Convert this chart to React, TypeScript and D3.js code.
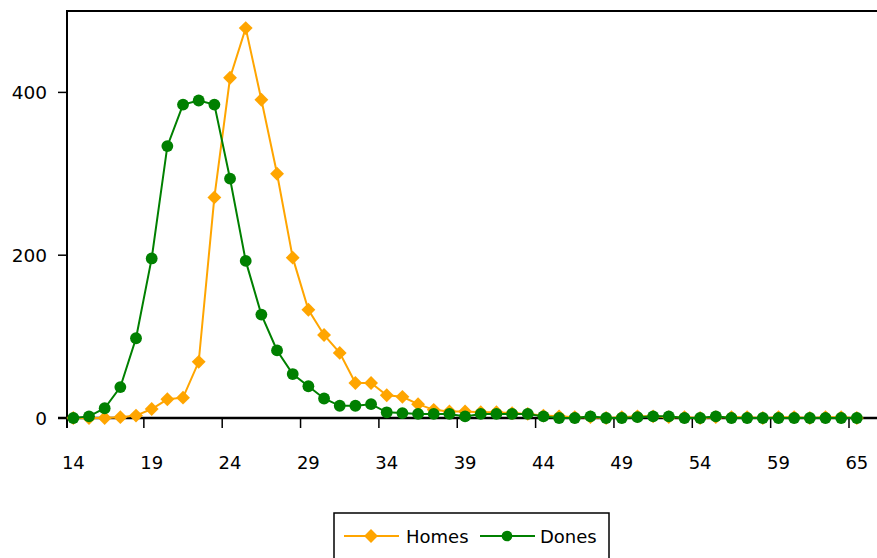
import React from "react";
import * as d3 from "d3";

const ages: string[] = [
  "14","15","16","17","18","19","20","21","22","23",
  "24","25","26","27","28","29","30","31","32","33",
  "34","35","36","37","38","39","40","41","42","43",
  "44","45","46","47","48","49","50","51","52","53",
  "54","55","56","57","58","59","60","61","62","63",
  "65",
];

const homes: number[] = [
  0, 0, 0, 1, 3, 11, 23, 25, 69, 271,
  418, 479, 391, 300, 197, 133, 102, 80, 43, 43,
  28, 26, 17, 10, 8, 8, 7, 7, 6, 5,
  3, 2, 1, 1, 0, 1, 2, 2, 1, 1,
  0, 1, 1, 1, 0, 1, 1, 0, 1, 1,
  0,
];

const dones: number[] = [
  0, 2, 12, 38, 98, 196, 334, 385, 390, 385,
  294, 193, 127, 83, 54, 39, 24, 15, 15, 17,
  7, 6, 5, 5, 5, 2, 5, 5, 5, 5,
  2, 0, 0, 2, 0, 0, 1, 2, 2, 0,
  0, 2, 0, 0, 0, 0, 0, 0, 0, 0,
  0,
];

const xTickIndex: number[] = [0, 5, 10, 15, 20, 25, 30, 35, 40, 45, 50];
const yTicks: number[] = [0, 200, 400];
const seriesNames: string[] = ["Homes", "Dones"];

const W = 877;
const H = 558;
const FONT = "DejaVu Sans";

export default function App() {
  const left = 65.5;
  const step = 15.67;
  const x = d3
    .scaleBand<string>()
    .domain(ages)
    .range([left, left + ages.length * step])
    .padding(0);
  const bw = x.bandwidth();
  const cx = (a: string) => (x(a) as number) + bw / 2;
  const y = d3.scaleLinear().domain([0, 500]).range([418, 11]);

  const line = d3
    .line<number>()
    .x((_, i) => cx(ages[i]))
    .y((d) => y(d));

  const diamond = d3.symbol().type(d3.symbolSquare).size(96)()!;
  const circle = d3.symbol().type(d3.symbolCircle).size(110)()!;
  const orange = "#FFA500";
  const green = "#008000";
  const axisX = 67;

  return (
    <svg
      width={W}
      height={H}
      style={{ position: "absolute", left: 0, top: 0, background: "#fff" }}
      fontFamily={FONT}
    >
      <line x1={axisX - 1} x2={W} y1={y(500)} y2={y(500)} stroke="#000" strokeWidth={2} />
      <line x1={axisX} x2={axisX} y1={y(500) - 1} y2={y(0) + 10} stroke="#000" strokeWidth={2} />
      {yTicks.map((t) => (
        <g key={t}>
          <line x1={axisX - 9} x2={axisX} y1={y(t)} y2={y(t)} stroke="#000" strokeWidth={1.5} />
          <text
            x={47}
            y={y(t)}
            textAnchor="end"
            dominantBaseline="central"
            fontSize={18.5}
            fill="#000"
          >
            {t}
          </text>
        </g>
      ))}
      <line x1={axisX - 9} x2={W} y1={y(0)} y2={y(0)} stroke="#000" strokeWidth={2.5} />
      {xTickIndex.map((i) => (
        <g key={i}>
          {i > 0 && (
            <line
              x1={x(ages[i]) as number}
              x2={x(ages[i]) as number}
              y1={y(0)}
              y2={y(0) + 10}
              stroke="#000"
              strokeWidth={1.5}
            />
          )}
          <text
            x={cx(ages[i])}
            y={462}
            textAnchor="middle"
            dominantBaseline="central"
            fontSize={18}
            fill="#000"
          >
            {ages[i]}
          </text>
        </g>
      ))}

      <path d={line(homes) || ""} fill="none" stroke={orange} strokeWidth={2} />
      {homes.map((v, i) => (
        <path
          key={"h" + i}
          d={diamond}
          transform={`translate(${cx(ages[i])},${y(v)}) rotate(45)`}
          fill={orange}
        />
      ))}
      <path d={line(dones) || ""} fill="none" stroke={green} strokeWidth={2} />
      {dones.map((v, i) => (
        <path
          key={"d" + i}
          d={circle}
          transform={`translate(${cx(ages[i])},${y(v)})`}
          fill={green}
        />
      ))}

      <rect x={334} y={513} width={275} height={60} fill="#fff" stroke="#000" strokeWidth={1.5} />
      <g>
        <line x1={344} x2={399} y1={536} y2={536} stroke={orange} strokeWidth={2} />
        <path d={diamond} transform={`translate(371,536) rotate(45)`} fill={orange} />
        <text x={406} y={536} dominantBaseline="central" fontSize={18} fill="#000">
          {seriesNames[0]}
        </text>
        <line x1={480} x2={535} y1={536} y2={536} stroke={green} strokeWidth={2} />
        <path d={d3.symbol().type(d3.symbolCircle).size(90)()!} transform={`translate(507,536)`} fill={green} />
        <text x={540} y={536} dominantBaseline="central" fontSize={18} fill="#000">
          {seriesNames[1]}
        </text>
      </g>
    </svg>
  );
}
